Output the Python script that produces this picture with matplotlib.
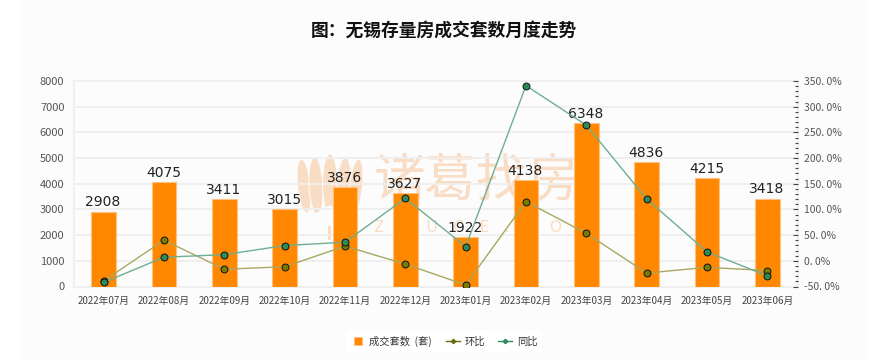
import matplotlib
matplotlib.use("Agg")
import matplotlib.pyplot as plt
from matplotlib.patches import Rectangle, Ellipse, Polygon
from matplotlib.ticker import MultipleLocator

months = ["2022年07月","2022年08月","2022年09月","2022年10月","2022年11月","2022年12月",
          "2023年01月","2023年02月","2023年03月","2023年04月","2023年05月","2023年06月"]
deals = [2908,4075,3411,3015,3876,3627,1922,4138,6348,4836,4215,3418]
mom = [-39,40.1,-16.3,-11.6,28.6,-6.4,-47,115.3,53.4,-23.8,-12.8,-18.9]
yoy = [-42,7,12,29.7,36.2,121.7,27.8,341,264,120.4,17.4,-29.3]
left_ticks = list(range(0,8001,1000))
right_ticks = list(range(-50,351,50))

plt.rcParams['font.family'] = ['Noto Sans CJK SC','DejaVu Sans']
W,H = 882,359
WM = '#f9dcc4'
PANEL = '#fcfcfc'
fig = plt.figure(figsize=(W/100,H/100),dpi=100,facecolor='white')
fig.add_artist(Rectangle((19/W,0),(869-19)/W,1,transform=fig.transFigure,facecolor=PANEL,edgecolor='none',zorder=-5))

# watermark (behind the axes)
fig.text(476/W,1-181/H,"诸葛找房",ha='center',va='center',fontsize=37,color=WM,zorder=-3)
fig.text(482/W,1-228/H,"Z    H    U    G    E    .    C    O    M",ha='center',va='center',fontsize=12,color=WM,zorder=-3)
bg = fig.add_axes([0,0,1,1],zorder=-4)
bg.set_xlim(0,W); bg.set_ylim(H,0); bg.axis('off')
for cx,cy,w,h,ang in [(304,186,13,54,-6),(316,186,14,58,-3),(330,184,15,60,0),(344,186,14,58,3),(356,186,13,54,6)]:
    bg.add_patch(Ellipse((cx,cy),w,h,angle=ang,facecolor=WM,edgecolor=PANEL,linewidth=0.8))
bg.add_patch(Rectangle((328,222),3,18,facecolor=WM,edgecolor='none'))
bg.add_patch(Polygon([(314,214),(330,205),(346,214),(346,226),(314,226)],facecolor=PANEL,edgecolor='none'))

ax = fig.add_axes([73.5/W,1-286.5/H,(797.5-73.5)/W,205.5/H])
ax.set_facecolor('none')
ax.set_xlim(-0.5,11.5); ax.set_ylim(0,8000)
x = list(range(12))
ax.bar(x,deals,width=0.41,color='#ff8800',edgecolor='#ffc080',linewidth=0.8,zorder=3)
for i,v in enumerate(deals):
    ax.text(i-0.01,v+90,str(v),ha='center',va='bottom',fontsize=10,family='DejaVu Sans',color='#222222',zorder=7)
ax.set_yticks(left_ticks)
ax.grid(axis='y',color='#eeeeee',linewidth=1.3,zorder=0)
ax.set_xticks(x); ax.set_xticklabels(months,fontsize=7,color='#444444')
ax.tick_params(axis='x',length=0,pad=7)
ax.tick_params(axis='y',length=0,pad=6.5,labelsize=8,labelcolor='#555555')
for s in ax.spines.values():
    s.set_color('#eeeeee'); s.set_linewidth(1.3)

ax2 = ax.twinx()
ax2.set_ylim(-50,350)
ax2.set_yticks(right_ticks)
ax2.set_yticklabels([f"{t}. 0%" for t in right_ticks],fontsize=7.5,color='#555555')
ax2.yaxis.set_minor_locator(MultipleLocator(10))
ax2.tick_params(axis='y',which='major',length=3.5,width=0.8,color='#444444',direction='in',pad=4.5)
ax2.tick_params(axis='y',which='minor',length=2,width=0.8,color='#444444',direction='in')
for s in ax2.spines.values(): s.set_visible(False)
ax2.plot(x,mom,color='#a8a860',lw=1,marker='o',ms=5,mfc='#7a7a00',mec='#111111',mew=0.7,zorder=5)
ax2.plot(x,yoy,color='#6fae90',lw=1,marker='o',ms=5,mfc='#2e8b57',mec='#111111',mew=0.7,zorder=6)

fig.text(443.5/W,1-32/H,"图：无锡存量房成交套数月度走势",ha='center',va='center',fontsize=12.8,fontweight='bold',color='#111111')

# legend
hs = [plt.Line2D([],[],color='none',marker='s',ms=5.2,mfc='#ff8800',mec='#ffc080',mew=0.5),
      plt.Line2D([],[],color='#6b6b10',lw=1,marker='D',ms=2.2),
      plt.Line2D([],[],color='#2e8b57',lw=1,marker='D',ms=2.2)]
fig.legend(hs,["成交套数  (套)","环比","同比"],loc='center',bbox_to_anchor=(444/W,1-341/H),ncol=3,
           frameon=True,facecolor='white',edgecolor='none',framealpha=1,fancybox=False,
           fontsize=7.4,handlelength=1.36,columnspacing=1.3,handletextpad=0.45,labelcolor='#333333',
           borderpad=0.5,borderaxespad=0)
fig.savefig("out.png",dpi=100)
